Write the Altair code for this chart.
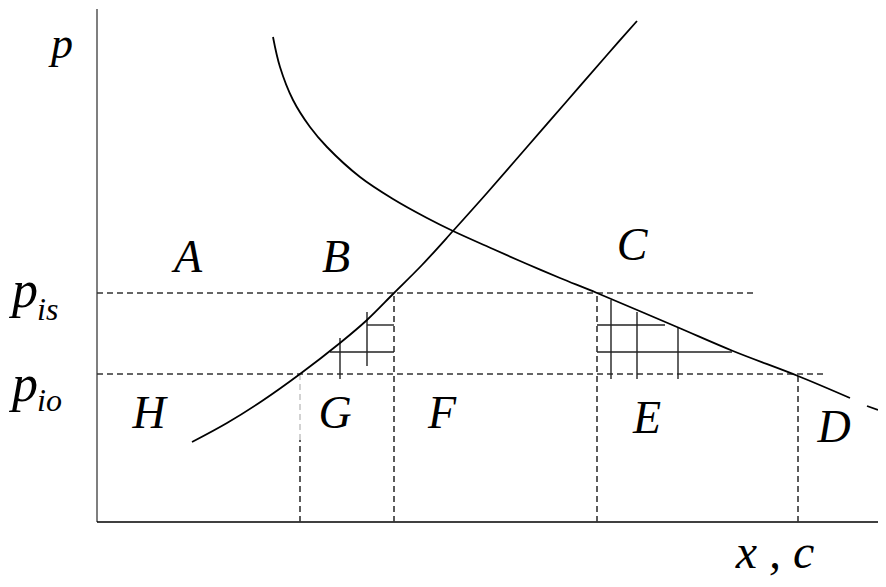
import altair as alt
import pandas as pd

# Coordinates: quantity q (x, c) and price p
# Supply curve
supply_q = [95, 130, 165, 203, 243, 270, 297, 325, 356, 390, 430, 470, 510, 540]
supply_p = [80, 99, 121, 148, 179, 202, 229, 257, 291, 329, 375, 421, 467, 501]

# Demand curve (solid part) and its short tail
demand_q = [176, 183, 196, 213, 230, 263, 296, 330, 356, 396, 430, 463, 500, 580, 636, 701, 753]
demand_p = [485, 455, 422, 395, 375, 345, 323, 304, 291, 273, 258, 244, 229, 195, 171, 146, 124]
tail_q = [770, 781]
tail_p = [116, 112]

# Price levels
p_is = 229
p_io = 148

# Axes
axis_v = {"q": [0], "p": [0], "q2": [0], "p2": [513]}
axis_h = {"q": [0], "p": [0], "q2": [781], "p2": [0]}

# Dashed guides
dash_q = [0, 0, 297, 500, 701, 203]
dash_p = [p_is, p_io, 0, 0, 0, 0]
dash_q2 = [658, 730, 297, 500, 701, 203]
dash_p2 = [p_is, p_io, p_is, p_is, p_io, 82]
faint_q = [203]
faint_p = [82]
faint_q2 = [203]
faint_p2 = [p_io]

# Hatch grid in the two triangles
grid_q = [243, 270, 233, 270, 514, 540, 581, 500, 500]
grid_p = [143, 156, 170, 197, 143, 143, 143, 197, 170]
grid_q2 = [243, 270, 297, 297, 514, 540, 581, 568, 635]
grid_p2 = [184, 210, 170, 197, 222, 210, 194, 197, 170]

# Region labels
lab_text = ["A", "B", "C", "H", "G", "F", "E", "D"]
lab_q = [91, 239, 535, 52, 238, 345, 550, 737]
lab_p = [250, 250, 262, 94, 94, 94, 89, 80]

# Axis-end label p
ptop_text = ["p"]
ptop_q = [-35]
ptop_p = [464]

# Price labels with subscripts
main_text = ["p", "p"]
main_q = [-85, -85]
main_p = [215, 121]
sub_text = ["is", "io"]
sub_q = [-60, -60]
sub_p = [202, 111]

xlab_text = ["x , c"]
xlab_q = [678]
xlab_p = [-46]

xs = alt.Scale(domain=[-89, 781], nice=False, zero=False)
ys = alt.Scale(domain=[-57, 514], nice=False, zero=False)


def X(f="q"):
    return alt.X(f"{f}:Q", scale=xs, axis=None)


def Y(f="p"):
    return alt.Y(f"{f}:Q", scale=ys, axis=None)


def rules(d, **kw):
    return alt.Chart(pd.DataFrame(d)).mark_rule(**kw).encode(
        x=X(), y=Y(), x2="q2:Q", y2="p2:Q")


def curve(qs, ps, **kw):
    return alt.Chart(pd.DataFrame({"q": qs, "p": ps, "o": list(range(len(qs)))})).mark_line(
        color="black", strokeWidth=1.8, **kw).encode(x=X(), y=Y(), order="o:Q")


def texts(t, qs, ps, size, align):
    return alt.Chart(pd.DataFrame({"t": t, "q": qs, "p": ps})).mark_text(
        font="Liberation Serif", fontStyle="italic", fontSize=size, align=align,
        baseline="alphabetic", color="black").encode(x=X(), y=Y(), text="t:N")


layers = [
    rules(axis_v, color="#555555", strokeWidth=1.5),
    rules(axis_h, color="#000000", strokeWidth=1.6),
    rules({"q": dash_q, "p": dash_p, "q2": dash_q2, "p2": dash_p2},
          color="#333333", strokeWidth=1.6, strokeDash=[6, 4]),
    rules({"q": faint_q, "p": faint_p, "q2": faint_q2, "p2": faint_p2},
          color="#bbbbbb", strokeWidth=1.3, strokeDash=[6, 4]),
    rules({"q": grid_q, "p": grid_p, "q2": grid_q2, "p2": grid_p2},
          color="#222222", strokeWidth=1.4),
    curve(supply_q, supply_p, interpolate="catmull-rom"),
    curve(demand_q, demand_p, interpolate="catmull-rom"),
    curve(tail_q, tail_p),
    texts(lab_text, lab_q, lab_p, 46, "center"),
    texts(ptop_text, ptop_q, ptop_p, 44, "center"),
    texts(main_text, main_q, main_p, 52, "left"),
    texts(sub_text, sub_q, sub_p, 32, "left"),
    texts(xlab_text, xlab_q, xlab_p, 48, "center"),
]

chart = alt.layer(*layers).properties(
    width=870, height=571, padding=0,
    autosize=alt.AutoSizeParams(type="none"),
    background="white",
).configure_view(stroke=None)

chart.save("out.html", embed_options={"renderer": "svg", "actions": False})
